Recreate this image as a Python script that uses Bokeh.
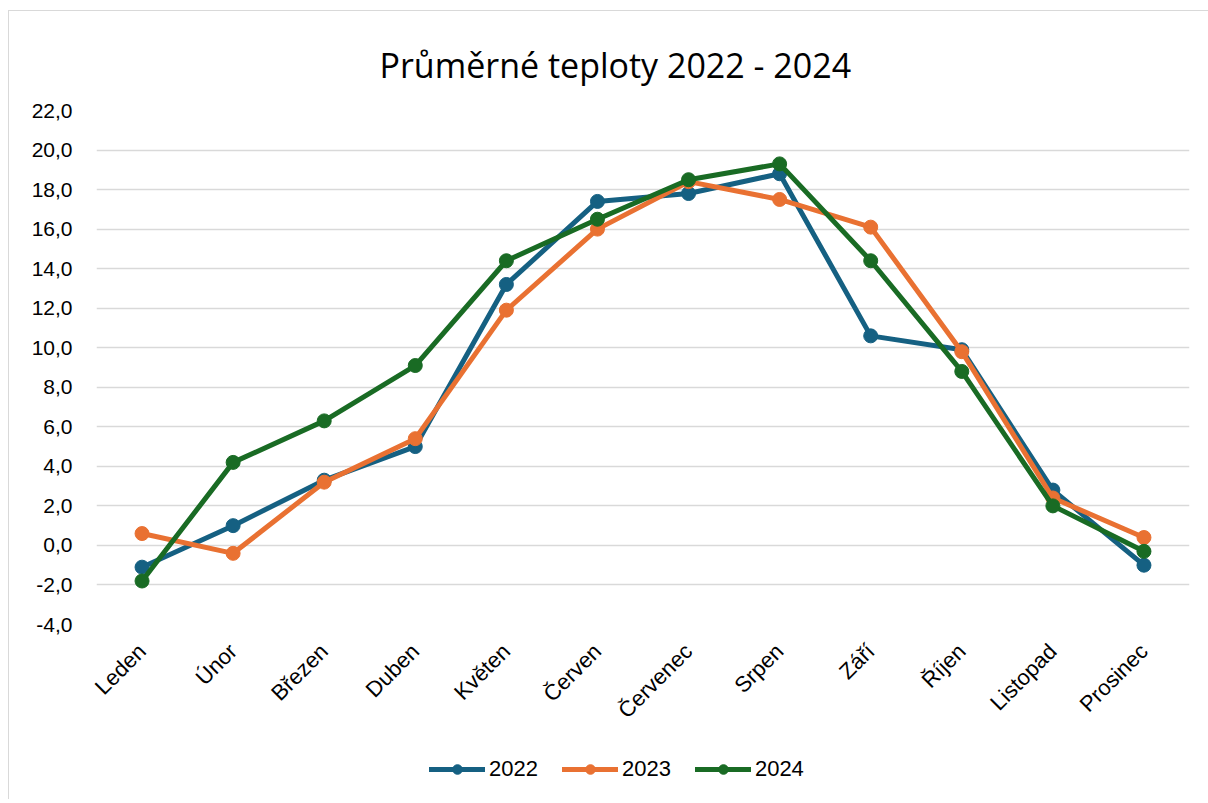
from bokeh.plotting import figure
from bokeh.layouts import column
from bokeh.models import Range1d, FixedTicker, CustomJSTickFormatter, Legend, LegendItem
from bokeh.embed import file_html
from bokeh.resources import INLINE
import math

months = ["Leden", "Únor", "Březen", "Duben", "Květen", "Červen",
          "Červenec", "Srpen", "Září", "Říjen", "Listopad", "Prosinec"]
t2022 = [-1.1, 1.0, 3.3, 5.0, 13.2, 17.4, 17.8, 18.8, 10.6, 9.9, 2.8, -1.0]
t2023 = [0.6, -0.4, 3.2, 5.4, 11.9, 16.0, 18.4, 17.5, 16.1, 9.8, 2.4, 0.4]
t2024 = [-1.8, 4.2, 6.3, 9.1, 14.4, 16.5, 18.5, 19.3, 14.4, 8.8, 2.0, -0.3]
years = ["2022", "2023", "2024"]
colors = ["#156082", "#E97132", "#196B24"]
y_ticks = [-4, -2, 0, 2, 4, 6, 8, 10, 12, 14, 16, 18, 20, 22]

p = figure(frame_width=1093, frame_height=514, x_range=months, y_range=Range1d(-4, 22),
           output_backend="svg", toolbar_location=None,
           min_border_left=87, min_border_right=19, min_border_top=99,
           min_border_bottom=125)
p.outline_line_color = None
p.background_fill_color = "white"
p.border_fill_color = "white"

p.title.text = "Průměrné teploty 2022 - 2024"
p.title.align = "left"
p.title.offset = 283
p.title.vertical_align = "top"
p.title.standoff = 42
p.title.text_font = "Open Sans"
p.title.text_font_style = "normal"
p.title.text_font_size = "34px"
p.title.text_color = "#000000"

p.xgrid.grid_line_color = None
p.ygrid.grid_line_color = "#D9D9D9"
p.ygrid.grid_line_width = 1.5

p.yaxis.ticker = FixedTicker(ticks=y_ticks)
p.yaxis.formatter = CustomJSTickFormatter(code="return tick.toFixed(1).replace('.', ',');")
p.yaxis.axis_line_color = None
p.yaxis.major_tick_line_color = None
p.yaxis.minor_tick_line_color = None
p.yaxis.major_tick_out = 0
p.yaxis.major_label_standoff = 24
p.yaxis.major_label_text_font = "Liberation Sans"
p.yaxis.major_label_text_font_size = "21px"
p.yaxis.major_label_text_color = "#000000"

p.xaxis.axis_line_color = None
p.xaxis.major_tick_line_color = None
p.xaxis.minor_tick_line_color = None
p.xaxis.major_tick_out = 0
p.xaxis.major_label_orientation = math.pi / 4
p.xaxis.major_label_standoff = 23
p.xaxis.major_label_text_font = "Liberation Sans"
p.xaxis.major_label_text_font_size = "22px"
p.xaxis.major_label_text_color = "#000000"

series = [t2022, t2023, t2024]
for yr, vals, c in zip(years, series, colors):
    p.line(months, vals, line_color=c, line_width=5, line_join="round", line_cap="round")
    p.scatter(months, vals, size=14, fill_color=c, line_color=c)

# legend strip below the chart (its series copies lie outside its view, only the legend shows)
lg = figure(width=1199, height=50, x_range=Range1d(0, 1), y_range=Range1d(100, 101),
            output_backend="svg", toolbar_location=None,
            x_axis_location=None, y_axis_location=None,
            min_border_left=0, min_border_right=0, min_border_top=0, min_border_bottom=0)
lg.outline_line_color = None
lg.xgrid.visible = False
lg.ygrid.visible = False
lg.border_fill_color = "white"

items = []
idx = list(range(len(months)))
for yr, vals, c in zip(years, series, colors):
    l = lg.line(idx, vals, line_color=c, line_width=5, line_cap="round")
    s = lg.scatter(idx, vals, size=14, fill_color=c, line_color=c)
    items.append(LegendItem(label=yr, renderers=[l, s]))

legend = Legend(items=items, orientation="horizontal", location=(333, 17))
legend.border_line_color = None
legend.background_fill_alpha = 0
legend.glyph_width = 56
legend.glyph_height = 24
legend.label_standoff = 4
legend.spacing = 24
legend.padding = 0
legend.margin = 0
legend.label_text_font = "Liberation Sans"
legend.label_text_font_size = "22px"
legend.label_text_color = "#000000"
lg.add_layout(legend, "center")

layout = column(p, lg, spacing=0)
layout.styles = {"border-left": "1px solid #D9D9D9", "border-top": "1px solid #D9D9D9",
                 "margin-top": "10px", "margin-left": "8px"}

open("out.html", "w").write(file_html(layout, INLINE))
